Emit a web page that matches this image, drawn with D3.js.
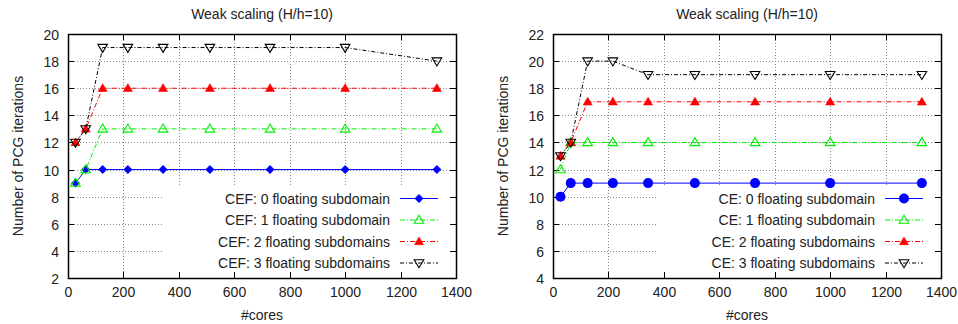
<!DOCTYPE html>
<html><head><meta charset="utf-8">
<script src="https://cdn.jsdelivr.net/npm/d3@7"></script>
<style>
body{margin:0;background:#fff;}
svg{display:block;font-family:"Liberation Sans",Arial,Helvetica,sans-serif;}
</style></head>
<body>
<svg id="chart" width="958" height="324"></svg>
<script>
// ---- data ----
const cores = [27, 64, 125, 216, 343, 512, 729, 1000, 1331];
const xTicks = [0, 200, 400, 600, 800, 1000, 1200, 1400];

const titleText = "Weak scaling (H/h=10)";
const xLabel = "#cores";
const yLabel = "Number of PCG iterations";

// left panel (CEF)
const cefLabels = ["CEF: 0 floating subdomain", "CEF: 1 floating subdomain", "CEF: 2 floating subdomains", "CEF: 3 floating subdomains"];
const cef0 = [9, 10, 10, 10, 10, 10, 10, 10, 10];
const cef1 = [9, 10, 13, 13, 13, 13, 13, 13, 13];
const cef2 = [12, 13, 16, 16, 16, 16, 16, 16, 16];
const cef3 = [12, 13, 19, 19, 19, 19, 19, 19, 18];
const leftYTicks = [2, 4, 6, 8, 10, 12, 14, 16, 18, 20];

// right panel (CE)
const ceLabels = ["CE: 0 floating subdomain", "CE: 1 floating subdomain", "CE: 2 floating subdomains", "CE: 3 floating subdomains"];
const ce0 = [10, 11, 11, 11, 11, 11, 11, 11, 11];
const ce1 = [12, 14, 14, 14, 14, 14, 14, 14, 14];
const ce2 = [13, 14, 17, 17, 17, 17, 17, 17, 17];
const ce3 = [13, 14, 20, 20, 19, 19, 19, 19, 19];
const rightYTicks = [4, 6, 8, 10, 12, 14, 16, 18, 20, 22];

// ---- styles ----
const colors = ["#0000ff", "#00ee00", "#ff0000", "#000000"];
const dashes = [null, "5,2,1,2", "5,2,1,2", "4,2,1,2"];

const svg = d3.select("#chart");

function marker(g, type, x, y, color) {
  if (type === "diamond") {
    g.append("path").attr("d", `M${x},${y-4.2}L${x+4.2},${y}L${x},${y+4.2}L${x-4.2},${y}Z`)
      .attr("fill", color).attr("stroke", color).attr("stroke-width", 0.5);
  } else if (type === "circle") {
    g.append("circle").attr("cx", x).attr("cy", y).attr("r", 5).attr("fill", color);
  } else if (type === "triUpOpen") {
    g.append("path").attr("d", `M${x},${y-4.8}L${x+4.8},${y+3.2}L${x-4.8},${y+3.2}Z`)
      .attr("fill", "none").attr("stroke", color).attr("stroke-width", 1.1);
  } else if (type === "triUpFill") {
    g.append("path").attr("d", `M${x},${y-4.5}L${x+4.5},${y+3.2}L${x-4.5},${y+3.2}Z`)
      .attr("fill", color).attr("stroke", color).attr("stroke-width", 0.6);
  } else if (type === "triDownOpen") {
    g.append("path").attr("d", `M${x},${y+4.8}L${x+4.8},${y-3.2}L${x-4.8},${y-3.2}Z`)
      .attr("fill", "none").attr("stroke", color).attr("stroke-width", 1.1);
  }
}

function panel(opt) {
  const x = d3.scaleLinear().domain([0, 1400]).range([opt.x0, opt.x1]);
  const y = d3.scaleLinear().domain(opt.yDomain).range([278, 34]);
  const g = svg.append("g");
  const legLeft = opt.legLeft, legTop = 186;

  // grid
  const grid = g.append("g").attr("stroke", "#888").attr("stroke-width", 1).attr("stroke-dasharray", "1,2");
  opt.yTicks.forEach(t => {
    if (t === opt.yDomain[0] || t === opt.yDomain[1]) return;
    const yy = Math.round(y(t)) + 0.5;
    const xe = yy > legTop ? legLeft : opt.x1;
    grid.append("line").attr("x1", opt.x0).attr("x2", xe).attr("y1", yy).attr("y2", yy);
  });
  xTicks.forEach(t => {
    if (t === 0 || t === 1400) return;
    const xx = Math.round(x(t)) + 0.5;
    const ye = xx > legLeft ? legTop : 278;
    grid.append("line").attr("x1", xx).attr("x2", xx).attr("y1", 34).attr("y2", ye);
  });

  // ticks (mirrored, inward)
  const tk = g.append("g").attr("stroke", "#000").attr("stroke-width", 1);
  opt.yTicks.forEach(t => {
    const yy = Math.round(y(t)) + 0.5;
    tk.append("line").attr("x1", opt.x0).attr("x2", opt.x0 + 6).attr("y1", yy).attr("y2", yy);
    tk.append("line").attr("x1", opt.x1 - 6).attr("x2", opt.x1).attr("y1", yy).attr("y2", yy);
    g.append("text").attr("x", opt.x0 - 9).attr("y", yy).attr("dy", "0.36em")
      .attr("text-anchor", "end").attr("font-size", 14).attr("fill", "#222").text(t);
  });
  xTicks.forEach(t => {
    const xx = Math.round(x(t)) + 0.5;
    tk.append("line").attr("x1", xx).attr("x2", xx).attr("y1", 278).attr("y2", 272);
    tk.append("line").attr("x1", xx).attr("x2", xx).attr("y1", 34).attr("y2", 40);
    g.append("text").attr("x", xx).attr("y", 297)
      .attr("text-anchor", "middle").attr("font-size", 14).attr("fill", "#222").text(t);
  });

  // border
  g.append("rect").attr("x", opt.x0 + 0.5).attr("y", 34.5).attr("width", opt.x1 - opt.x0).attr("height", 244)
    .attr("fill", "none").attr("stroke", "#000").attr("stroke-width", 1.5);

  // series
  const line = d3.line().x(d => x(d[0])).y(d => y(d[1]));
  opt.series.forEach((s, i) => {
    const pts = cores.map((c, k) => [c, s[k]]);
    g.append("path").attr("d", line(pts)).attr("fill", "none")
      .attr("stroke", colors[i]).attr("stroke-width", 1)
      .attr("stroke-dasharray", dashes[i]);
  });
  opt.series.forEach((s, i) => {
    cores.forEach((c, k) => marker(g, opt.markers[i], x(c), y(s[k]), colors[i]));
  });

  // legend
  opt.labels.forEach((lab, i) => {
    const yy = 198.5 + i * 21.5;
    g.append("text").attr("x", opt.legText).attr("y", yy).attr("dy", "0.36em")
      .attr("text-anchor", "end").attr("font-size", 14).attr("fill", "#222").text(lab);
    g.append("line").attr("x1", opt.legText + 10).attr("x2", opt.legText + 48).attr("y1", yy).attr("y2", yy)
      .attr("stroke", colors[i]).attr("stroke-width", 1).attr("stroke-dasharray", dashes[i]);
    marker(g, opt.markers[i], opt.legText + 29, yy, colors[i]);
  });

  // titles
  const cx = (opt.x0 + opt.x1) / 2;
  g.append("text").attr("x", cx).attr("y", 14).attr("dy", "0.36em").attr("text-anchor", "middle")
    .attr("font-size", 14).attr("fill", "#222").text(titleText);
  g.append("text").attr("x", cx).attr("y", 315).attr("dy", "0.36em").attr("text-anchor", "middle")
    .attr("font-size", 14).attr("fill", "#222").text(xLabel);
  g.append("text").attr("transform", `translate(${opt.x0 - 50},156) rotate(-90)`).attr("dy", "0.36em")
    .attr("text-anchor", "middle").attr("font-size", 14).attr("fill", "#222").text(yLabel);
}

panel({
  x0: 68, x1: 456, yDomain: [2, 20], yTicks: leftYTicks,
  series: [cef0, cef1, cef2, cef3], labels: cefLabels,
  markers: ["diamond", "triUpOpen", "triUpFill", "triDownOpen"],
  legLeft: 163, legText: 390
});
panel({
  x0: 553, x1: 941, yDomain: [4, 22], yTicks: rightYTicks,
  series: [ce0, ce1, ce2, ce3], labels: ceLabels,
  markers: ["circle", "triUpOpen", "triUpFill", "triDownOpen"],
  legLeft: 658, legText: 875
});
</script>
</body></html>
